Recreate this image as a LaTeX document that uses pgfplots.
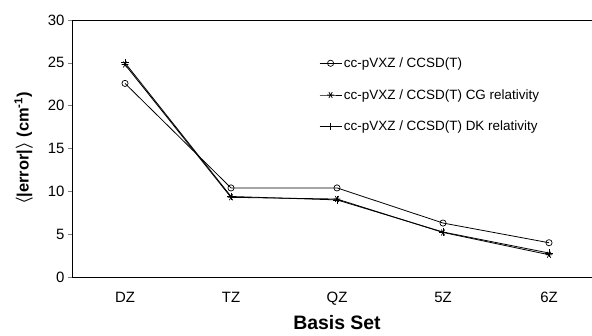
\documentclass[border=0pt]{standalone}
\usepackage{pgfplots}
\pgfplotsset{compat=1.18}
\usepackage{fontspec}
\setmainfont{Liberation Sans}
\begin{document}
\begin{tikzpicture}[x=1bp,y=1bp]
\useasboundingbox (-72,-58) rectangle (520,277);
\begin{axis}[
  at={(0,0)}, anchor=south west,
  scale only axis, width=530bp, height=257bp,
  xmin=-0.5, xmax=4.5, ymin=0, ymax=30,
  xtick={0,1,2,3,4}, xticklabels={DZ,TZ,QZ,5Z,6Z},
  ytick={0,5,...,30},
  axis line style={line width=0.9pt},
  x tick style={draw=none},
  y tick style={line width=0.5pt},
  tick align=outside, tick pos=left,
  major tick length=4bp,
  /pgf/number format/assume math mode=true,
  ticklabel style={font=\fontsize{15}{17}\selectfont},
  xticklabel style={yshift=-8bp},
  xlabel={\textbf{Basis Set}},
  ylabel={\textbf{\boldmath$\langle$|error|$\rangle$ (cm\textsuperscript{-1})}},
  xlabel style={font=\fontsize{19.5}{22}\selectfont, yshift=-3bp},
  ylabel style={font=\fontsize{16.5}{20}\selectfont, yshift=8bp},
  legend style={draw=none, fill=none, at={(0.466,0.862)}, anchor=north west,
    font=\fontsize{13.5}{15}\selectfont, row sep=16.5bp, inner sep=0pt},
  legend cell align=left,
  legend image code/.code={\draw[#1] (0bp,0bp) -- (11bp,0bp) -- (22bp,0bp);
     \draw[#1, only marks] plot coordinates {(11bp,0bp)};},
  every axis plot/.append style={line width=0.8pt, black},
]
\addplot[mark=o, mark size=3.1bp, mark options={fill=white, line width=0.7pt}] coordinates {(0,22.6) (1,10.4) (2,10.4) (3,6.3) (4,4.0)};
\addlegendentry{cc-pVXZ / CCSD(T)}
\addplot[mark=asterisk, mark size=3.4bp, mark options={rotate=90, line width=0.7pt}] coordinates {(0,24.8) (1,9.3) (2,9.1) (3,5.2) (4,2.6)};
\addlegendentry{cc-pVXZ / CCSD(T) CG relativity}
\addplot[mark=+, mark size=3.6bp, mark options={line width=0.7pt}] coordinates {(0,25.0) (1,9.4) (2,9.0) (3,5.25) (4,2.8)};
\addlegendentry{cc-pVXZ / CCSD(T) DK relativity}
\end{axis}
\end{tikzpicture}
\end{document}
